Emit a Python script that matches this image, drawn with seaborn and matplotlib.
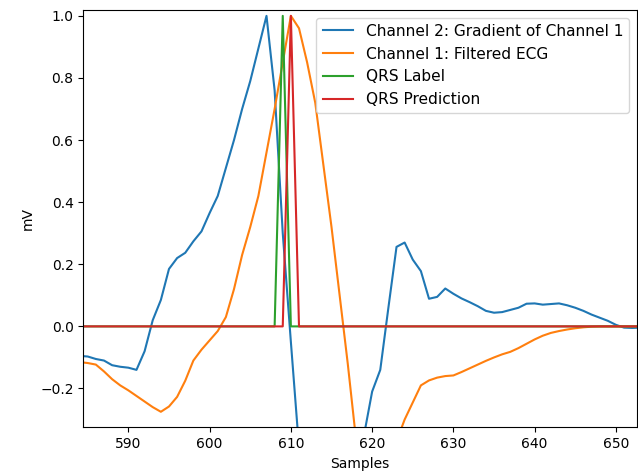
import matplotlib
matplotlib.use("Agg")
import matplotlib.pyplot as plt
import seaborn as sns
import numpy as np

samples = list(range(584, 654))

# Channel 2: gradient of channel 1 (normalised)
channel2 = [-0.095, -0.097, -0.105, -0.11, -0.125, -0.13, -0.133, -0.14, -0.08, 0.02,
            0.085, 0.185, 0.22, 0.237, 0.274, 0.306, 0.365, 0.42, 0.51, 0.60,
            0.70, 0.79, 0.895, 1.0, 0.76, 0.30, -0.05, -0.39, -0.75, -0.95,
            -1.0, -0.95, -0.8, -0.65, -0.5, -0.35, -0.21, -0.14, 0.06, 0.256,
            0.27, 0.215, 0.178, 0.089, 0.095, 0.122, 0.105, 0.09, 0.078, 0.065,
            0.05, 0.044, 0.046, 0.053, 0.06, 0.073, 0.074, 0.07, 0.072, 0.074,
            0.068, 0.06, 0.05, 0.038, 0.028, 0.018, 0.005, -0.004, -0.005, -0.004]

# Channel 1: filtered ECG (normalised)
channel1 = [-0.115, -0.118, -0.123, -0.145, -0.17, -0.19, -0.206, -0.224, -0.242, -0.26,
            -0.275, -0.258, -0.227, -0.175, -0.11, -0.075, -0.045, -0.015, 0.03, 0.12,
            0.23, 0.32, 0.42, 0.56, 0.70, 0.85, 1.0, 0.96, 0.85, 0.72,
            0.52, 0.32, 0.10, -0.12, -0.36, -0.52, -0.6, -0.6, -0.52, -0.37,
            -0.30, -0.245, -0.19, -0.174, -0.165, -0.16, -0.158, -0.147, -0.135, -0.123,
            -0.111, -0.10, -0.09, -0.082, -0.07, -0.056, -0.042, -0.03, -0.021, -0.015,
            -0.01, -0.006, -0.003, -0.001, 0.0, 0.0, 0.0, 0.0, 0.0, 0.0]

qrs_label = [1 if s == 609 else 0 for s in samples]
qrs_pred = [1 if s == 610 else 0 for s in samples]

fig = plt.figure(figsize=(6.38, 4.74), dpi=100)
ax = fig.add_axes([0.1305, 0.0985, 0.868, 0.8805])

pal = sns.color_palette("tab10")
sns.lineplot(x=samples, y=channel2, ax=ax, color=pal[0], label="Channel 2: Gradient of Channel 1")
sns.lineplot(x=samples, y=channel1, ax=ax, color=pal[1], label="Channel 1: Filtered ECG")
sns.lineplot(x=samples, y=qrs_label, ax=ax, color=pal[2], label="QRS Label")
sns.lineplot(x=samples, y=qrs_pred, ax=ax, color=pal[3], label="QRS Prediction")

ax.set_xlim(584.45, 652.6)
ax.set_ylim(-0.325, 1.019)
ax.set_xticks([590, 600, 610, 620, 630, 640, 650])
ax.set_yticks([-0.2, 0.0, 0.2, 0.4, 0.6, 0.8, 1.0])
ax.set_xlabel("Samples")
ax.set_ylabel("mV")
ax.legend(loc="upper right", fontsize=11.1)

fig.savefig("out.png", dpi=100)
